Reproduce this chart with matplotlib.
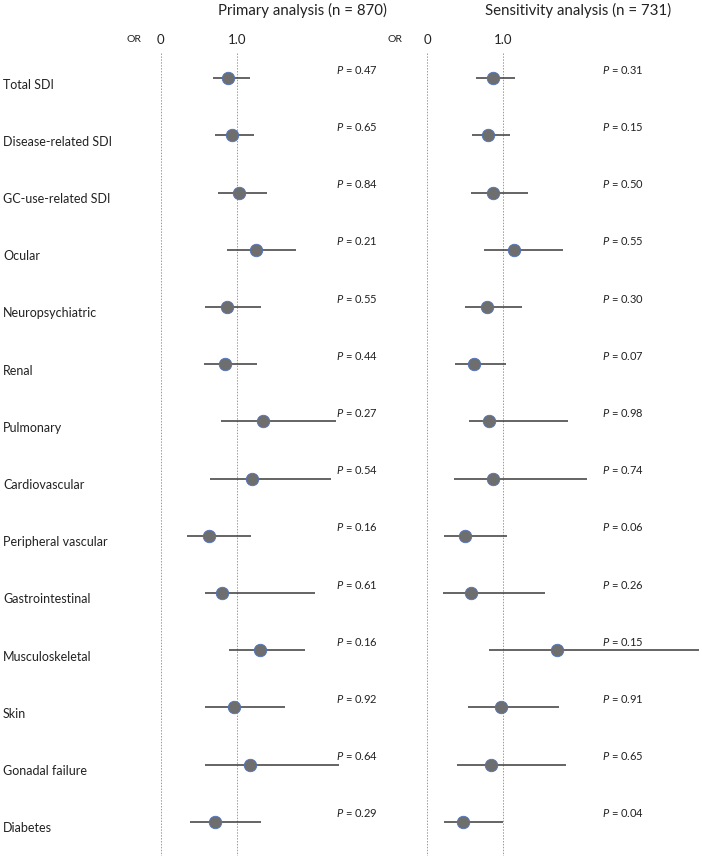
import matplotlib
matplotlib.use("Agg")
import matplotlib.pyplot as plt

plt.rcParams["font.family"] = ["Lato", "DejaVu Sans"]
plt.rcParams["mathtext.fontset"] = "custom"
plt.rcParams["mathtext.it"] = "Lato:italic"
plt.rcParams["mathtext.rm"] = "Lato"

# domains, top to bottom
domains = [
    "Total SDI", "Disease-related SDI", "GC-use-related SDI", "Ocular",
    "Neuropsychiatric", "Renal", "Pulmonary", "Cardiovascular",
    "Peripheral vascular", "Gastrointestinal", "Musculoskeletal", "Skin",
    "Gonadal failure", "Diabetes",
]

# primary analysis (n = 870)
primary_or = [0.89, 0.94, 1.03, 1.25, 0.875, 0.85, 1.35, 1.205, 0.635, 0.81, 1.31, 0.97, 1.175, 0.715]
primary_lo = [0.69, 0.715, 0.76, 0.875, 0.58, 0.57, 0.79, 0.65, 0.34, 0.58, 0.895, 0.58, 0.585, 0.39]
primary_hi = [1.175, 1.23, 1.40, 1.78, 1.325, 1.27, 2.30, 2.24, 1.19, 2.03, 1.90, 1.63, 2.35, 1.315]
primary_p = ["0.47", "0.65", "0.84", "0.21", "0.55", "0.44", "0.27", "0.54", "0.16", "0.61", "0.16", "0.92", "0.64", "0.29"]

# sensitivity analysis (n = 731)
sens_or = [0.86, 0.80, 0.87, 1.145, 0.78, 0.615, 0.815, 0.86, 0.49, 0.57, 1.71, 0.97, 0.84, 0.465]
sens_lo = [0.64, 0.59, 0.57, 0.74, 0.49, 0.365, 0.55, 0.355, 0.225, 0.21, 0.815, 0.54, 0.39, 0.215]
sens_hi = [1.155, 1.085, 1.32, 1.78, 1.24, 1.035, 1.85, 2.10, 1.05, 1.55, 3.58, 1.735, 1.82, 0.99]
sens_p = ["0.31", "0.15", "0.50", "0.55", "0.30", "0.07", "0.98", "0.74", "0.06", "0.26", "0.15", "0.91", "0.65", "0.04"]

titles = ["Primary analysis (n = 870)", "Sensitivity analysis (n = 731)"]

W, H = 702, 857
fig = plt.figure(figsize=(W / 100, H / 100), dpi=100)

# layout in pixels: zero line of each panel, px per OR unit, row spacing
px_unit = 76.0
row_px = 57.2
first_row_px = 78.3
zero_px = [160.7, 427.3]
xlim = (-0.4, 3.6)
ylim = (13.6, -0.85)

top_px = first_row_px + ylim[1] * row_px
height_px = (ylim[0] - ylim[1]) * row_px

panels = [
    (primary_or, primary_lo, primary_hi, primary_p),
    (sens_or, sens_lo, sens_hi, sens_p),
]
title_x = [1.87, 1.98]
or_x = [-0.35, -0.42]

for k, (est, lo, hi, pv) in enumerate(panels):
    left_px = zero_px[k] + xlim[0] * px_unit
    width_px = (xlim[1] - xlim[0]) * px_unit
    ax = fig.add_axes([left_px / W, 1 - (top_px + height_px) / H,
                       width_px / W, height_px / H])
    ax.set_xlim(*xlim)
    ax.set_ylim(*ylim)
    ax.axis("off")
    ax.patch.set_alpha(0)

    # reference lines at OR = 0 and OR = 1
    ax.vlines([0, 1], -0.44, 13.6, colors="#9a9a9a", linestyles=(0, (1.5, 1.5)),
              linewidth=0.7)

    rows = list(range(len(domains)))
    ax.hlines(rows, lo, hi, colors="#3a3a3a", linewidth=1.1, clip_on=False, zorder=2)
    ax.plot(est, rows, "o", markersize=9, markerfacecolor="#6e6e6e",
            markeredgecolor="#4f74c0", markeredgewidth=0.6, clip_on=False, zorder=3)

    for i, p in enumerate(pv):
        ax.text(2.3, i - 0.15, "$P$ = " + p, fontsize=8, ha="left", va="center",
                color="#222222")

    ax.text(0, -0.67, "0", fontsize=9.5, ha="center", va="center", color="#222222")
    ax.text(1, -0.67, "1.0", fontsize=9.5, ha="center", va="center", color="#222222")
    ax.text(or_x[k], -0.68, "OR", fontsize=7.5, ha="center", va="center", color="#222222")
    ax.text(title_x[k], -1.18, titles[k], fontsize=10.8, ha="center", va="center",
            color="#222222")

    if k == 0:
        for i, name in enumerate(domains):
            ax.text((3 - zero_px[0]) / px_unit, i + 0.11, name, fontsize=9,
                    ha="left", va="center", color="#222222")

fig.savefig("out.png", dpi=100)
